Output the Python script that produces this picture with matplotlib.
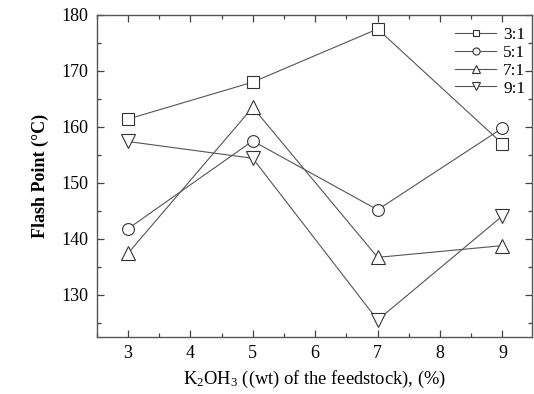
#!/usr/bin/env python3
"""Flash point vs K2OH3 loading for four molar ratios, saved to out.png."""

import matplotlib
matplotlib.use("Agg")
import matplotlib.pyplot as plt
from matplotlib.ticker import MultipleLocator

plt.rcParams["font.family"] = ["Liberation Serif", "DejaVu Serif"]
plt.rcParams["mathtext.fontset"] = "custom"
plt.rcParams["mathtext.rm"] = "Liberation Serif"
plt.rcParams["mathtext.default"] = "regular"

# data
loading = [3, 5, 7, 9]
ratios = ["3:1", "5:1", "7:1", "9:1"]
flash_3to1 = [161.4, 168.0, 177.5, 157.0]
flash_5to1 = [141.8, 157.5, 145.2, 159.8]
flash_7to1 = [137.4, 163.5, 136.7, 138.8]
flash_9to1 = [157.4, 154.4, 125.5, 144.1]

series = [flash_3to1, flash_5to1, flash_7to1, flash_9to1]
markers = ["s", "o", "^", "v"]
msizes = [8, 8.5, 9.5, 9.5]

fig = plt.figure(figsize=(5.34, 3.94), dpi=100)
ax = fig.add_axes([0.181, 0.145, 0.816, 0.817])

for vals, lab, m, ms in zip(series, ratios, markers, msizes):
    ax.plot(loading, vals, color="#555555", lw=0.8, marker=m, ms=ms,
            mfc="white", mec="#333333", mew=0.8, label=lab)

ax.set_xlim(2.5, 9.48)
ax.set_ylim(122.5, 180)
ax.xaxis.set_major_locator(MultipleLocator(1))
ax.xaxis.set_minor_locator(MultipleLocator(0.5))
ax.yaxis.set_major_locator(MultipleLocator(10))
ax.yaxis.set_minor_locator(MultipleLocator(5))

ax.tick_params(which="both", direction="in", top=True, right=True,
               color="#444444", width=0.9, labelsize=13, pad=6)
ax.tick_params(which="major", length=5)
ax.tick_params(which="minor", length=3)
for s in ax.spines.values():
    s.set_color("#555555")
    s.set_linewidth(1.0)

ax.set_xlabel(r"K$_2$OH$_3$ ((wt) of the feedstock), (%)", fontsize=13.3, labelpad=5)
ax.set_ylabel("Flash Point (°C)", fontsize=13, fontweight="bold", labelpad=9)

ax.legend(loc="upper right", bbox_to_anchor=(1.0, 0.985), frameon=False,
          fontsize=12.5, markerscale=0.6, handlelength=2.4, labelspacing=0.1,
          handletextpad=0.4, borderaxespad=0.1, borderpad=0.3)

plt.savefig("out.png", dpi=100)
plt.close()
